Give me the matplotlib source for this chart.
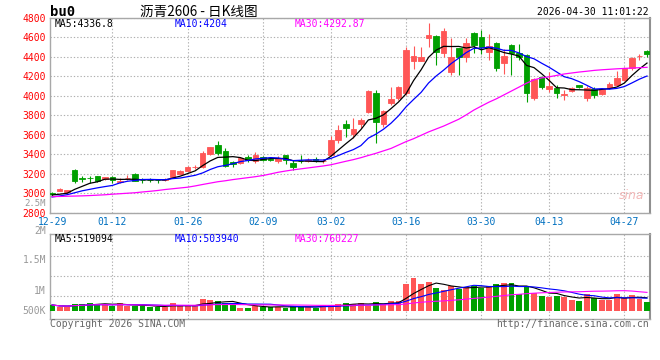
import matplotlib
matplotlib.use('Agg')
import matplotlib.pyplot as plt
import numpy as np
import pandas as pd

plt.rcParams['font.family'] = ['DejaVu Sans Mono']

# trading days shown (12-29 .. 04-30)
dates = ['12-29', '12-30', '12-31',
         '01-05', '01-06', '01-07', '01-08', '01-09',
         '01-12', '01-13', '01-14', '01-15', '01-16',
         '01-19', '01-20', '01-21', '01-22', '01-23',
         '01-26', '01-27', '01-28', '01-29', '01-30',
         '02-02', '02-03', '02-04', '02-05', '02-06',
         '02-09', '02-10', '02-11', '02-12', '02-13',
         '02-24', '02-25', '02-26', '02-27',
         '03-02', '03-03', '03-04', '03-05', '03-06',
         '03-09', '03-10', '03-11', '03-12', '03-13',
         '03-16', '03-17', '03-18', '03-19', '03-20',
         '03-23', '03-24', '03-25', '03-26', '03-27',
         '03-30', '03-31', '04-01', '04-02', '04-03',
         '04-07', '04-08', '04-09', '04-10',
         '04-13', '04-14', '04-15', '04-16', '04-17',
         '04-20', '04-21', '04-22', '04-23', '04-24',
         '04-27', '04-28', '04-29', '04-30']
tick_labels = ['12-29', '01-12', '01-26', '02-09', '03-02', '03-16', '03-30', '04-13', '04-27']

opens = [3000, 3028, 3008, 3238, 3155, 3158, 3178, 3143, 3168, 3120,
         3155, 3198, 3140, 3140, 3138, 3138, 3168, 3200, 3232, 3268,
         3266, 3400, 3495, 3432, 3322, 3315, 3373, 3335, 3368, 3352,
         3332, 3390, 3312, 3334, 3336, 3352, 3330, 3392, 3548, 3710,
         3605, 3712, 3838, 4030, 3712, 3930, 3975, 4032, 4360, 4360,
         4596, 4615, 4440, 4248, 4490, 4400, 4650, 4603, 4452, 4545,
         4333, 4520, 4445, 4418, 3981, 4196, 4069, 4083, 4012, 4052,
         4110, 3981, 4069, 4021, 4083, 4110, 4162, 4282, 4408, 4459]
highs = [3015, 3055, 3035, 3245, 3180, 3177, 3182, 3170, 3172, 3153,
         3183, 3205, 3160, 3160, 3150, 3160, 3240, 3240, 3275, 3295,
         3430, 3480, 3540, 3462, 3330, 3370, 3395, 3420, 3380, 3370,
         3380, 3392, 3340, 3390, 3360, 3370, 3350, 3590, 3700, 3755,
         3770, 3768, 4060, 4060, 3855, 4093, 4100, 4503, 4510, 4500,
         4753, 4625, 4695, 4595, 4495, 4595, 4655, 4675, 4640, 4550,
         4486, 4538, 4538, 4435, 4179, 4206, 4247, 4110, 4059, 4095,
         4112, 4103, 4093, 4080, 4140, 4254, 4300, 4400, 4435, 4469]
lows = [2975, 3020, 2990, 3108, 3118, 3102, 3115, 3138, 3108, 3102,
        3135, 3125, 3110, 3115, 3110, 3125, 3160, 3195, 3228, 3250,
        3256, 3395, 3395, 3270, 3270, 3305, 3320, 3307, 3330, 3330,
        3310, 3300, 3240, 3313, 3320, 3320, 3310, 3385, 3515, 3580,
        3572, 3666, 3820, 3512, 3685, 3905, 3960, 4008, 4280, 4355,
        4505, 4318, 4400, 4213, 4215, 4349, 4440, 4435, 4370, 4260,
        4220, 4213, 4366, 3939, 3956, 4069, 4041, 3980, 3956, 4040,
        4080, 3946, 3980, 4010, 4075, 4100, 4150, 4265, 4367, 4400]
closes = [2995, 3048, 3030, 3130, 3150, 3152, 3125, 3165, 3138, 3128,
          3160, 3130, 3133, 3134, 3133, 3143, 3235, 3230, 3270, 3273,
          3410, 3475, 3412, 3283, 3302, 3357, 3343, 3390, 3342, 3346,
          3366, 3342, 3274, 3328, 3342, 3346, 3336, 3545, 3648, 3665,
          3655, 3750, 4048, 3730, 3843, 3973, 4092, 4468, 4407, 4398,
          4622, 4454, 4664, 4398, 4400, 4542, 4522, 4503, 4510, 4282,
          4407, 4445, 4400, 4031, 4169, 4093, 4100, 4025, 4017, 4083,
          4092, 4083, 4008, 4069, 4117, 4179, 4288, 4390, 4413, 4432]

ma5 = [2982, 2990, 3000, 3040, 3071, 3102, 3117, 3144, 3146, 3142,
       3143, 3144, 3138, 3137, 3138, 3135, 3156, 3175, 3202, 3230,
       3284, 3332, 3368, 3371, 3376, 3366, 3339, 3335, 3347, 3356,
       3357, 3357, 3334, 3331, 3330, 3326, 3325, 3379, 3443, 3508,
       3570, 3653, 3753, 3770, 3805, 3869, 3937, 4021, 4157, 4268,
       4397, 4470, 4509, 4507, 4508, 4492, 4505, 4473, 4495, 4472,
       4445, 4429, 4409, 4313, 4290, 4228, 4159, 4084, 4081, 4064,
       4063, 4060, 4057, 4067, 4074, 4091, 4132, 4209, 4277, 4337]
ma10 = [2962, 2972, 2985, 3005, 3025, 3040, 3055, 3068, 3080, 3106,
        3123, 3131, 3141, 3142, 3140, 3139, 3150, 3156, 3170, 3184,
        3209, 3244, 3272, 3286, 3303, 3325, 3336, 3352, 3359, 3366,
        3362, 3348, 3335, 3339, 3343, 3342, 3341, 3357, 3387, 3419,
        3448, 3489, 3566, 3607, 3657, 3719, 3795, 3887, 3963, 4036,
        4133, 4204, 4265, 4332, 4388, 4445, 4488, 4491, 4501, 4490,
        4468, 4467, 4441, 4404, 4381, 4336, 4294, 4246, 4197, 4177,
        4146, 4109, 4070, 4074, 4069, 4077, 4096, 4133, 4172, 4204]
ma30 = [2965, 2967, 2969, 2971, 2973, 2976, 2980, 2984, 2990, 2995,
        3000, 3005, 3013, 3020, 3028, 3038, 3046, 3054, 3062, 3075,
        3090, 3104, 3118, 3128, 3140, 3150, 3160, 3170, 3182, 3198,
        3215, 3228, 3240, 3250, 3260, 3270, 3280, 3292, 3310, 3328,
        3345, 3365, 3388, 3410, 3435, 3460, 3495, 3530, 3560, 3595,
        3630, 3660, 3690, 3725, 3760, 3805, 3854, 3895, 3935, 3970,
        4010, 4050, 4090, 4130, 4165, 4185, 4196, 4210, 4225, 4235,
        4245, 4253, 4262, 4268, 4273, 4278, 4282, 4286, 4290, 4293]

volumes = [233, 163, 163, 273, 273, 314, 273, 273, 192, 314,
           192, 192, 192, 163, 163, 163, 314, 192, 192, 192,
           477, 437, 396, 314, 273, 122, 122, 192, 151, 163,
           163, 122, 192, 163, 163, 122, 233, 233, 273, 314,
           273, 314, 192, 355, 273, 396, 396, 1089, 1346, 1089,
           1171, 938, 845, 1008, 898, 967, 1008, 938, 1008, 1089,
           1130, 1130, 681, 1008, 722, 612, 571, 612, 571, 437,
           396, 681, 502, 437, 437, 681, 502, 641, 477, 339]  # thousands

RED = '#ff5656'
GREEN = '#00a000'
GRID = '#b0b0b0'
W, H = 660, 360


def fx(px):
    return px / W


def fy(py):
    return 1 - py / H


x = np.arange(len(dates))
o = np.array(opens)
c = np.array(closes)
colors = np.where(c >= o, RED, GREEN)
vol = np.array(volumes) * 1000.0
vol_s = pd.Series(vol)

fig = plt.figure(figsize=(6.6, 3.6), dpi=100)
ax = fig.add_axes([fx(50), fy(212.7), fx(600), (212.7 - 18) / H])
axv = fig.add_axes([fx(50), fy(319.3), fx(600), (319.3 - 234.3) / H])

# candles
ax.vlines(x, lows, highs, colors=colors, linewidth=0.8, zorder=2)
ax.bar(x, np.abs(c - o), width=0.74, bottom=np.minimum(o, c), color=colors,
       edgecolor=colors, linewidth=0.6, zorder=3)
ax.plot(x, ma5, color='black', lw=0.9, zorder=4)
ax.plot(x, ma10, color='#0000ff', lw=0.9, zorder=4)
ax.plot(x, ma30, color='#ff00ff', lw=0.9, zorder=4)

tick_idx = [dates.index(t) for t in tick_labels]
ax.set_xlim(-0.28, 79.4)
ax.set_ylim(2800, 4800)
ax.set_yticks(np.arange(2800, 4801, 200))
ax.set_xticks(tick_idx)
ax.set_xticklabels(tick_labels)
ax.tick_params(axis='y', length=0, labelsize=7, labelcolor='#ff0000', pad=3)
ax.tick_params(axis='x', length=0, labelsize=7, labelcolor='#0070c0', pad=3)
ax.grid(True, color=GRID, linestyle=(0, (1.2, 1.8)), linewidth=0.8)
ax.xaxis.get_gridlines()[0].set_visible(False)

# volume
axv.bar(x, vol, width=0.78, color=colors, zorder=3)
axv.plot(x, vol_s.rolling(5, min_periods=1).mean(), color='black', lw=0.8, zorder=4)
axv.plot(x, vol_s.rolling(10, min_periods=1).mean(), color='#0000ff', lw=0.8, zorder=4)
axv.plot(x, vol_s.rolling(30, min_periods=1).mean(), color='#ff00ff', lw=0.8, zorder=4)
axv.set_xlim(-0.28, 79.4)
vmin, vmax = -8.6 * 40800, 76.4 * 40800
axv.set_ylim(vmin, vmax)
axv.set_yticks([vmin + (vmax - vmin) * f for f in (0.278, 0.513, 0.748)])
axv.set_yticklabels([])
axv.set_xticks(tick_idx)
axv.set_xticklabels([])
axv.tick_params(length=0)
axv.grid(True, color=GRID, linestyle=(0, (1.2, 1.8)), linewidth=0.8)
axv.xaxis.get_gridlines()[0].set_visible(False)

for a in (ax, axv):
    for s in a.spines.values():
        s.set_color('#a8a8a8')
        s.set_linewidth(1)
    a.spines['right'].set_color('#909090')
    a.spines['right'].set_linewidth(1.5)
    a.set_axisbelow(True)

# volume axis labels
for lab, py, fs in [('2.5M', 203, 6.5), ('2M', 231, 7), ('1.5M', 260, 7),
                    ('1M', 290.7, 7), ('500K', 311, 7)]:
    fig.text(fx(46), fy(py), lab, ha='right', va='center', fontsize=fs, color='#999999')

# header
fig.text(fx(50), fy(12), 'bu0', ha='left', va='center', fontsize=10,
         fontweight='bold', color='black')
fig.text(fx(140), fy(12), '沥青2606 - 日K线图', ha='left', va='center', fontsize=9.8,
         family=['Noto Sans CJK SC', 'DejaVu Sans'], color='black')
fig.text(fx(649), fy(12), '2026-04-30 11:01:22', ha='right', va='center', fontsize=7,
         color='black')

# MA legends
fig.text(fx(54.5), fy(24), 'MA5:4336.8', va='center', fontsize=7, color='black')
fig.text(fx(175), fy(24), 'MA10:4204', va='center', fontsize=7, color='#0000ff')
fig.text(fx(295), fy(24), 'MA30:4292.87', va='center', fontsize=7, color='#ff00ff')
fig.text(fx(54.5), fy(239), 'MA5:519094', va='center', fontsize=7, color='black')
fig.text(fx(175), fy(239), 'MA10:503940', va='center', fontsize=7, color='#0000ff')
fig.text(fx(295), fy(239), 'MA30:760227', va='center', fontsize=7, color='#ff00ff')

# watermark + footer
fig.text(fx(632), fy(196), 'sina', ha='center', va='center', fontsize=9,
         style='italic', color='#f3b8b8', family='DejaVu Sans')
fig.text(fx(50), fy(324), 'Copyright 2026 SINA.COM', va='center', fontsize=7, color='#666666')
fig.text(fx(649), fy(324), 'http://finance.sina.com.cn', ha='right', va='center',
         fontsize=7, color='#666666')

fig.savefig('out.png', dpi=100, facecolor='white')
